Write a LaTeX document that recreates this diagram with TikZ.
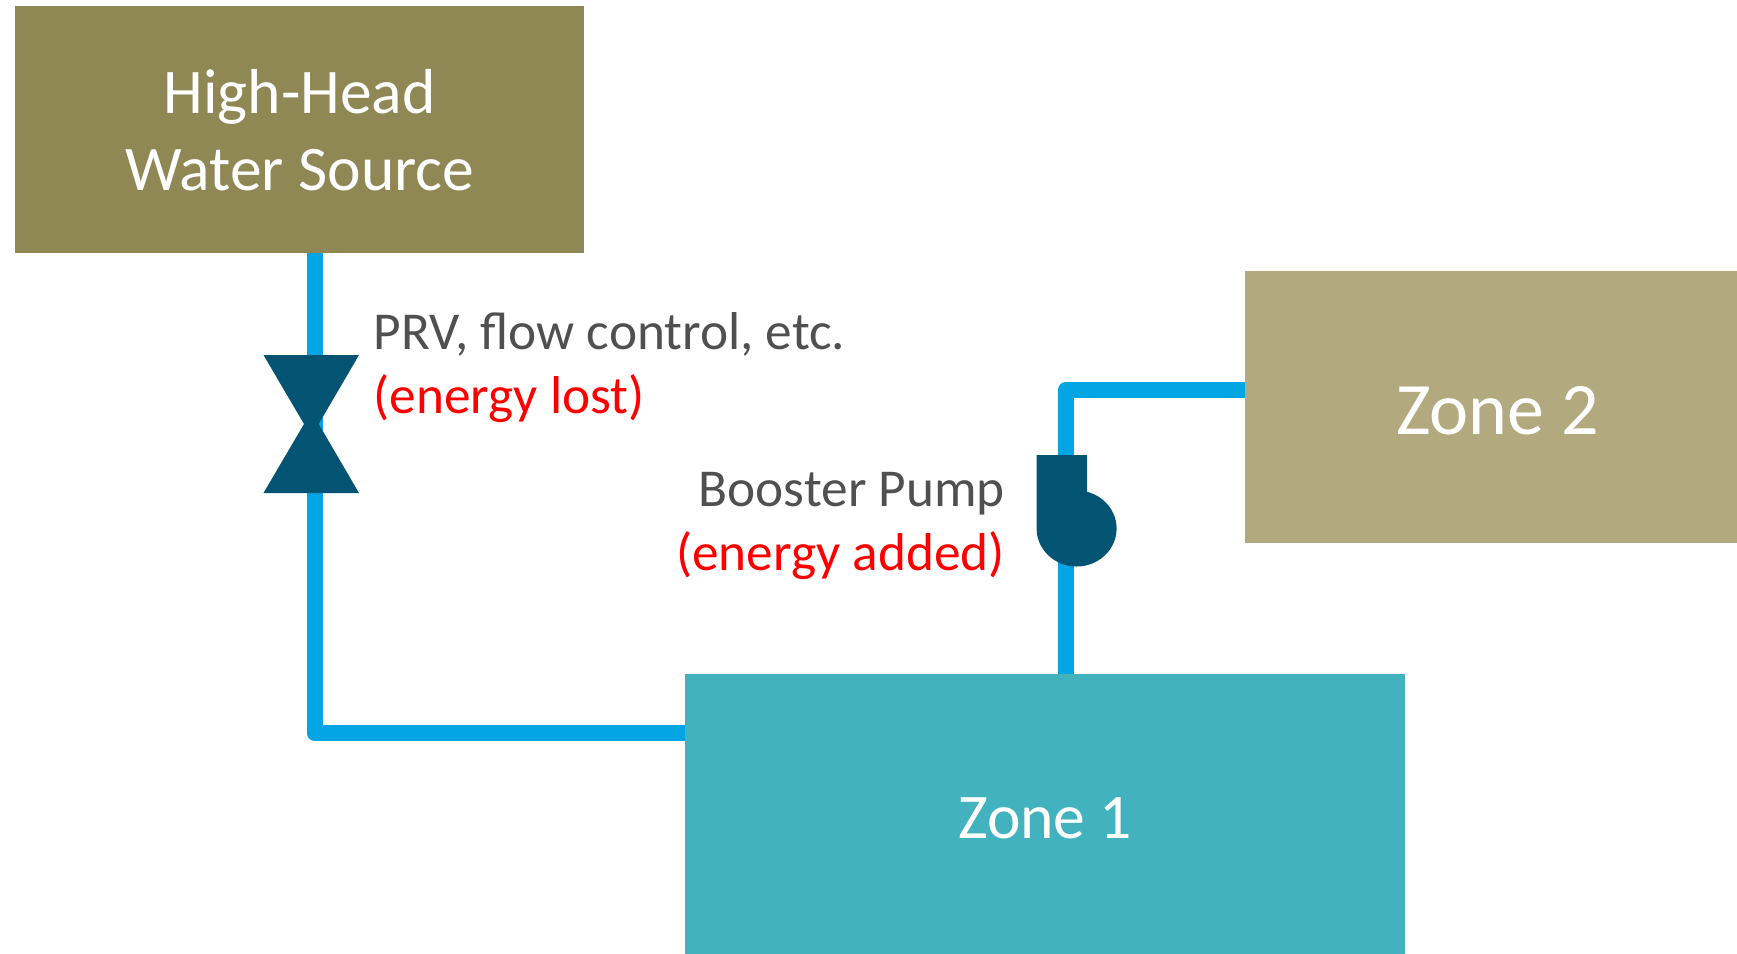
\documentclass[tikz,border=0pt]{standalone}
\usepackage{fontspec}
\setmainfont{Carlito}
\usepackage{xcolor}
\usetikzlibrary{positioning}
\definecolor{color1}{HTML}{8F8754}
\definecolor{color2}{HTML}{B2A97E}
\definecolor{color3}{HTML}{42B3BE}
\definecolor{color4}{HTML}{03A6E2}
\definecolor{color5}{HTML}{035473}
\definecolor{color6}{HTML}{505050}
\begin{document}
\begin{tikzpicture}[
  x=1pt,
  y=-1pt,
  zone/.style={draw=none, anchor=north west, inner sep=0pt, text=white, align=center, font=\fontsize{63.6}{77}\selectfont},
  pipe/.style={draw=color4, line width=16pt, line join=round},
  device/.style={fill=color5, draw=none},
  note/.style={inner sep=0pt, text=color6, font=\fontsize{53.3}{64}\selectfont}
]
\useasboundingbox (0,0) rectangle (1737,953);
\node[zone, fill=color1, minimum width=569pt, minimum height=247pt] (source) at (15,6) {High-Head\\Water Source};
\node[zone, fill=color2, minimum width=505pt, minimum height=272pt, text height=0pt, font=\fontsize{74}{88}\selectfont] (zone2) at (1245,271) {};
\node[anchor=base, inner sep=0pt, text=white, font=\fontsize{74}{88}\selectfont] (zone2label) at (1497.5,434) {Zone 2};
\node[zone, fill=color3, minimum width=720pt, minimum height=288pt] (zone1) at (685,674) {Zone 1};
% pipes
\coordinate (prvcorner) at (314.5,733);
\coordinate (pumpcorner) at (1065.7,390);
\draw[pipe] (prvcorner |- source.south) -- (prvcorner) -- (zone1.west |- prvcorner);
\draw[pipe] (pumpcorner |- zone1.north) -- (pumpcorner) -- (zone2.west |- pumpcorner);
% valve
\fill[device] (263.5,355) -- (359,355) -- (318.7,424) -- (359,493) -- (263.5,493) -- (304,424) -- cycle;
% pump
\fill[device] (1036.7,455) rectangle (1087,528.5) (1076.6,528.5) ellipse (40pt and 38pt);
\node[note, anchor=north west, align=left] (prv) at (373.5,312) {PRV, flow control, etc.\\\textcolor{red}{(energy lost)}};
\node[note, anchor=north east, align=right] (pump) at (1005,472.5) {Booster Pump\\\textcolor{red}{(energy added)}};
\end{tikzpicture}
\end{document}
